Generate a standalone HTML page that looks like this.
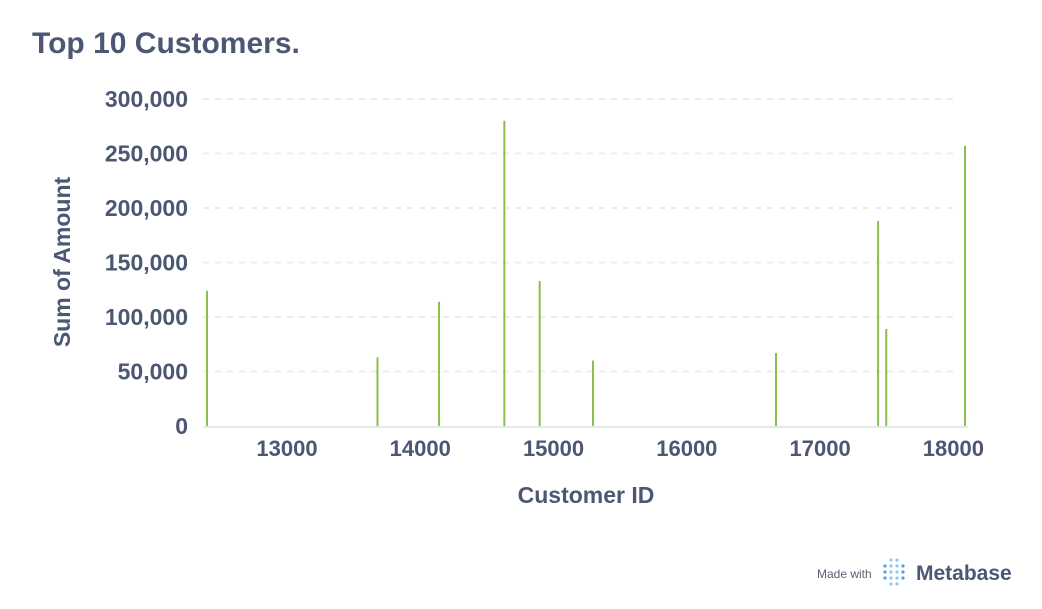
<!DOCTYPE html>
<html><head><meta charset="utf-8"><style>
body{margin:0;width:1042px;height:604px;background:#fff;font-family:"Liberation Sans",sans-serif;overflow:hidden}
</style></head><body>
<svg width="1042" height="604">
<text x="32" y="53" font-size="30" font-weight="bold" fill="#4c5773">Top 10 Customers.</text>
<g id="grid"></g><g id="bars"></g><g id="ticks"></g>
<text transform="translate(70,262) rotate(-90)" text-anchor="middle" font-size="23" font-weight="bold" fill="#4c5773">Sum of Amount</text>
<text x="586" y="503" text-anchor="middle" font-size="23" font-weight="bold" fill="#4c5773">Customer ID</text>
<g>
<text x="817" y="578" font-size="12" fill="#5a6072">Made with</text>
<g id="dots" fill="#509ee3"></g>
<text x="916" y="580" font-size="21" font-weight="bold" fill="#4c5773">Metabase</text>
</g>
</svg>
<script>
const customers=[12415,13694,14156,14646,14911,15311,16684,17450,17511,18102];
const amounts=[124000,63000,114000,280000,133000,60000,67000,188000,89000,257000];
const yTicks=[0,50000,100000,150000,200000,250000,300000];
const xTicks=[13000,14000,15000,16000,17000,18000];
const NS="http://www.w3.org/2000/svg";
const x=v=>207+(v-12415)*(758/5687);
const y=v=>426-v*(327/300000);
function mk(t,a,p){const e=document.createElementNS(NS,t);for(const k in a)e.setAttribute(k,a[k]);document.getElementById(p).appendChild(e);return e;}
yTicks.forEach(t=>{
 if(t>0){const l=mk('line',{x1:203,x2:958,y1:y(t),y2:y(t),stroke:'#ececec','stroke-width':2,'stroke-dasharray':'6,6'},'grid');
 
 }
 const tx=mk('text',{x:188,y:y(t)+8,'text-anchor':'end','font-size':23,'font-weight':'bold',fill:'#4c5773'},'ticks');
 tx.textContent=t.toLocaleString('en-US');
 
 
});
const base=mk('line',{x1:203,x2:968,y1:427,y2:427,stroke:'#e8e8e8','stroke-width':2},'grid');


xTicks.forEach(t=>{
 const tx=mk('text',{x:x(t)+2,y:456,'text-anchor':'middle','font-size':22,'font-weight':'bold',fill:'#4c5773'},'ticks');
 tx.textContent=t;
 
 
});
customers.forEach((c,i)=>{
 const r=mk('rect',{x:x(c)-1,y:y(amounts[i]),width:2,height:426-y(amounts[i]),fill:'#88bf4d'},'bars');
 
 
});
for(let cx=0;cx<4;cx++)for(let cy=0;cy<5;cy++){
 if((cx==0||cx==3)&&(cy==0||cy==4))continue;
 mk('circle',{cx:885+cx*6,cy:560+cy*6,r:1.6,opacity:(cx==1||cx==2)?0.6:1},'dots');
}
</script>
</body></html>
